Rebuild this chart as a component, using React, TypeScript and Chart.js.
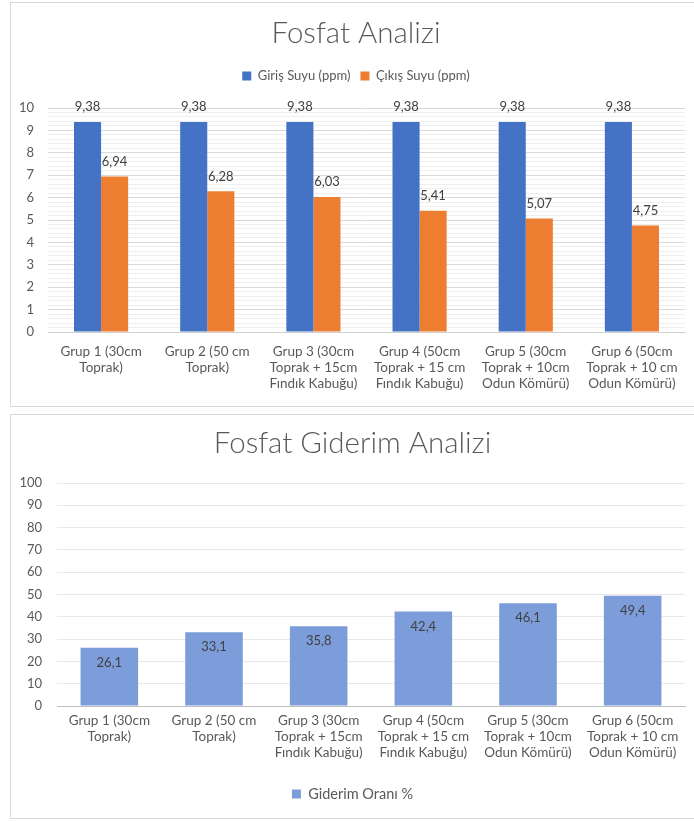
import React, { useEffect, useRef } from 'react';
import { Chart, registerables } from 'chart.js';

Chart.register(...registerables);

// ---------- data ----------
const categories: string[][] = [
  ['Grup 1 (30cm', 'Toprak)'],
  ['Grup 2 (50 cm', 'Toprak)'],
  ['Grup 3 (30cm', 'Toprak + 15cm', 'Fındık Kabuğu)'],
  ['Grup 4 (50cm', 'Toprak + 15 cm', 'Fındık Kabuğu)'],
  ['Grup 5 (30cm', 'Toprak + 10cm', 'Odun Kömürü)'],
  ['Grup 6 (50cm', 'Toprak + 10 cm', 'Odun Kömürü)'],
];
const girisSuyu = [9.38, 9.38, 9.38, 9.38, 9.38, 9.38];
const cikisSuyu = [6.94, 6.28, 6.03, 5.41, 5.07, 4.75];
const giderimOrani = [26.1, 33.1, 35.8, 42.4, 46.1, 49.4];

const title1 = 'Fosfat Analizi';
const title2 = 'Fosfat Giderim Analizi';
const series1Name = 'Giriş Suyu (ppm)';
const series2Name = 'Çıkış Suyu (ppm)';
const series3Name = 'Giderim Oranı %';

const FONT = 'Lato, "Open Sans", "DejaVu Sans", sans-serif';
const TEXT = '#595959';
const LABEL = '#404040';

const fmt = (v: number) => String(v).replace('.', ',');

const valueLabels = {
  id: 'valueLabels',
  afterDatasetsDraw(chart: any, _args: any, opts: any) {
    const ctx = chart.ctx;
    chart.data.datasets.forEach((ds: any, i: number) => {
      const meta = chart.getDatasetMeta(i);
      if (meta.hidden) return;
      meta.data.forEach((bar: any, j: number) => {
        const v = ds.data[j];
        ctx.save();
        ctx.font = `${opts.size || 13}px ${FONT}`;
        ctx.fillStyle = opts.color || LABEL;
        ctx.textAlign = 'center';
        ctx.textBaseline = 'middle';
        const y = opts.inside ? bar.y + opts.offset : bar.y - opts.offset;
        ctx.fillText(fmt(v), bar.x, y);
        ctx.restore();
      });
    });
  },
};

// shifts the title and legend blocks sideways after layout
const headerShift = {
  id: 'headerShift',
  afterLayout(chart: any, _args: any, opts: any) {
    const dx = (opts && opts.left) || 0;
    if (chart.titleBlock) chart.titleBlock.left += dx;
    if (chart.legend) chart.legend.left += dx;
  },
};

const isInt = (v: number) => Math.abs(v - Math.round(v)) < 1e-6;

function TopChart() {
  const ref = useRef<HTMLCanvasElement>(null);
  useEffect(() => {
    const chart = new Chart(ref.current!, {
      type: 'bar',
      data: {
        labels: categories,
        datasets: [
          { label: series1Name, data: girisSuyu, backgroundColor: '#4472C4', xAxisID: 'x', yAxisID: 'y' },
          { label: series2Name, data: cikisSuyu, backgroundColor: '#ED7D31', xAxisID: 'x', yAxisID: 'y' },
        ],
      },
      plugins: [valueLabels, headerShift],
      options: {
        responsive: false,
        animation: false,
        layout: { padding: { top: 4, right: 9, left: 0, bottom: 0 } },
        datasets: { bar: { categoryPercentage: 0.51, barPercentage: 1 } },
        plugins: {
          tooltip: { enabled: false },
          headerShift: { left: 16 },
          title: {
            display: true,
            text: title1,
            color: TEXT,
            font: { family: FONT, size: 29.5, weight: '300' as any },
            padding: { top: 8.3, bottom: 8.8 },
          },
          legend: {
            display: true,
            position: 'top',
            labels: {
              color: TEXT,
              font: { family: FONT, size: 13 },
              boxWidth: 9,
              boxHeight: 9,
              padding: 10,
            },
          },
          valueLabels: { offset: 15, size: 13 },
        } as any,
        scales: {
          x: {
            type: 'category',
            position: 'bottom',
            grid: { display: false, drawTicks: false },
            border: { display: true, color: '#d0d0d0' },
            ticks: { color: TEXT, font: { family: FONT, size: 13.5, lineHeight: 16 / 13.5 }, padding: 12, maxRotation: 0, autoSkip: false },
            afterFit: (s: any) => { s.height = 73; },
          },
          x2: {
            type: 'category',
            position: 'top',
            display: true,
            grid: { display: false, drawTicks: false },
            border: { display: false },
            ticks: { display: false },
            afterFit: (s: any) => { s.height = 15.5; },
          },
          y: {
            min: 0,
            max: 10,
            position: 'left',
            border: { display: false },
            grid: {
              drawTicks: false,
              color: (c: any) => (c.tick && isInt(c.tick.value) ? '#d9d9d9' : '#efefef'),
            },
            ticks: {
              stepSize: 0.2,
              maxTicksLimit: 100,
              autoSkip: false,
              padding: 14,
              color: TEXT,
              font: { family: FONT, size: 13 },
              callback: (v: any) => (isInt(Number(v)) ? String(Math.round(Number(v))) : ''),
            },
            afterFit: (s: any) => { s.width = 37; },
          },
        } as any,
      },
    });
    return () => chart.destroy();
  }, []);
  return <canvas ref={ref} width={683} height={402} style={{ display: 'block' }} />;
}

function BottomChart() {
  const ref = useRef<HTMLCanvasElement>(null);
  useEffect(() => {
    const chart = new Chart(ref.current!, {
      type: 'bar',
      data: {
        labels: categories,
        datasets: [{ label: series3Name, data: giderimOrani, backgroundColor: '#7C9DD9' }],
      },
      plugins: [valueLabels],
      options: {
        responsive: false,
        animation: false,
        layout: { padding: { top: 4, right: 9, left: 9, bottom: 5.75 } },
        datasets: { bar: { categoryPercentage: 0.55, barPercentage: 1 } },
        plugins: {
          tooltip: { enabled: false },
          title: {
            display: true,
            text: title2,
            color: TEXT,
            font: { family: FONT, size: 29.5, weight: '300' as any },
            padding: { top: 6.3, bottom: 22.3 },
          },
          legend: {
            display: true,
            position: 'bottom',
            labels: {
              color: TEXT,
              font: { family: FONT, size: 14.5 },
              boxWidth: 9,
              boxHeight: 9,
              padding: 7.75,
            },
          },
          valueLabels: { offset: 15, size: 13, inside: true },
        } as any,
        scales: {
          x: {
            type: 'category',
            grid: { display: false, drawTicks: false },
            border: { display: true, color: '#bfbfbf' },
            ticks: { color: TEXT, font: { family: FONT, size: 13.5, lineHeight: 16 / 13.5 }, padding: 7, maxRotation: 0, autoSkip: false },
            afterFit: (s: any) => { s.height = 73; },
          },
          y: {
            min: 0,
            max: 100,
            border: { display: false },
            grid: { drawTicks: false, color: '#e8e8e8' },
            ticks: { stepSize: 10, padding: 15, color: TEXT, font: { family: FONT, size: 13 } },
            afterFit: (s: any) => { s.width = 37; },
          },
        } as any,
      },
    });
    return () => chart.destroy();
  }, []);
  return <canvas ref={ref} width={683} height={402} style={{ display: 'block' }} />;
}

export default function App() {
  const box: React.CSSProperties = {
    position: 'absolute',
    left: 10,
    width: 700,
    background: '#ffffff',
    border: '1px solid #d9d9d9',
    boxSizing: 'border-box',
  };
  return (
    <div style={{ position: 'absolute', left: 0, top: 0, width: 694, height: 821, overflow: 'hidden', background: '#fff' }}>
      <div style={{ ...box, top: 2, height: 405 }}>
        <TopChart />
      </div>
      <div style={{ ...box, top: 414, height: 405 }}>
        <BottomChart />
      </div>
    </div>
  );
}
